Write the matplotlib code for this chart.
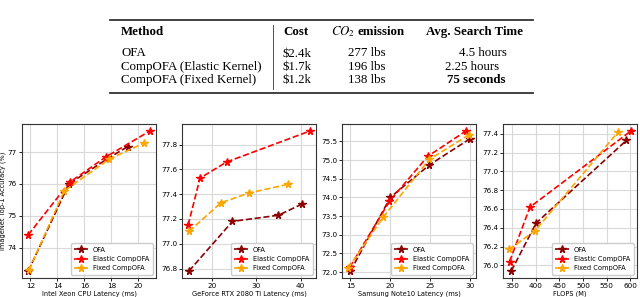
import matplotlib.pyplot as plt
from matplotlib.lines import Line2D

# table content
methods = ["OFA", "CompOFA (Elastic Kernel)", "CompOFA (Fixed Kernel)"]
costs = ["\\$2.4k", "\\$1.7k", "\\$1.2k"]
emissions = ["277 lbs", "196 lbs", "138 lbs"]
search_times = ["4.5 hours", "2.25 hours", "75 seconds"]

labels = ["OFA", "Elastic CompOFA", "Fixed CompOFA"]
colors = ["#8b0000", "red", "orange"]

# Intel Xeon CPU latency (ms)
cpu_x = [[11.85, 14.85, 17.75, 19.2],
         [11.83, 14.9, 17.6, 20.85],
         [11.9, 14.5, 17.85, 20.4]]
cpu_y = [[73.27, 76.0, 76.8, 77.17],
         [74.4, 76.05, 76.85, 77.66],
         [73.3, 75.78, 76.78, 77.28]]

# GeForce RTX 2080 Ti latency (ms)
gpu_x = [[14.8, 24.6, 35.0, 40.3],
         [14.6, 17.3, 23.3, 42.1],
         [14.8, 22.0, 28.4, 37.2]]
gpu_y = [[76.78, 77.18, 77.23, 77.32],
         [77.15, 77.53, 77.66, 77.91],
         [77.10, 77.33, 77.41, 77.48]]

# Samsung Note10 latency (ms)
note_x = [[15.0, 20.0, 24.9, 30.0],
          [14.9, 19.9, 24.7, 29.5],
          [14.7, 19.1, 24.9, 29.9]]
note_y = [[72.03, 74.0, 74.87, 75.57],
          [72.13, 73.9, 75.1, 75.78],
          [72.1, 73.47, 75.02, 75.68]]

# FLOPS (M)
flops_x = [[348.6, 401, 591.5],
           [345, 388, 601],
           [344, 399, 574]]
flops_y = [[75.94, 76.45, 77.33],
           [76.04, 76.62, 77.43],
           [76.17, 76.37, 77.42]]

panels = [
    (cpu_x, cpu_y, "Intel Xeon CPU Latency (ms)", [12, 14, 16, 18, 20], [74, 75, 76, 77]),
    (gpu_x, gpu_y, "GeForce RTX 2080 Ti Latency (ms)", [20, 30, 40],
     [76.8, 77.0, 77.2, 77.4, 77.6, 77.8]),
    (note_x, note_y, "Samsung Note10 Latency (ms)", [15, 20, 25, 30],
     [72.0, 72.5, 73.0, 73.5, 74.0, 74.5, 75.0, 75.5]),
    (flops_x, flops_y, "FLOPS (M)", [350, 400, 450, 500, 550, 600],
     [76.0, 76.2, 76.4, 76.6, 76.8, 77.0, 77.2, 77.4]),
]

fig = plt.figure(figsize=(6.4, 2.97), dpi=100)
W, H = 640.0, 297.0

lefts = [22, 182, 342, 503]
for i, (xs, ys, xlabel, xt, yt) in enumerate(panels):
    ax = fig.add_axes([lefts[i] / W, 19 / H, 134 / W, 154 / H])
    for k in range(3):
        ax.plot(xs[k], ys[k], linestyle="--", marker="*", color=colors[k],
                markersize=5.5, linewidth=1.2, label=labels[k])
    ax.set_xticks(xt)
    ax.set_yticks(yt)
    if i == 0:
        ax.set_yticklabels([str(v) for v in yt])
    ax.grid(True, color="#d9d9d9", linewidth=0.8)
    ax.set_axisbelow(True)
    ax.tick_params(labelsize=5.2, length=2, width=0.6, pad=1.5)
    ax.set_xlabel(xlabel, fontsize=4.8, labelpad=1)
    for s in ax.spines.values():
        s.set_linewidth(0.8)
        s.set_color("#333333")
    if i == 0:
        ax.set_ylabel("ImageNet Top-1 Accuracy (%)", fontsize=4.8, labelpad=1)
    ax.legend(loc="lower right", fontsize=4.8, handlelength=2.0,
              borderpad=0.5, labelspacing=0.5, framealpha=1, edgecolor="#cccccc")

# table
serif = "Liberation Serif"
fs = 9.3


def ty(p):
    return 1 - p / H


def tx(p):
    return p / W


fig.add_artist(Line2D([tx(110), tx(533)], [ty(20), ty(20)], color="#333333", linewidth=1.3))
fig.add_artist(Line2D([tx(110), tx(533)], [ty(93), ty(93)], color="#333333", linewidth=1.3))
fig.add_artist(Line2D([tx(273), tx(273)], [ty(25), ty(89)], color="#333333", linewidth=0.6))

hdr_y = ty(32)
fig.text(tx(121), hdr_y, "Method", family=serif, fontsize=fs, weight="bold", va="center")
fig.text(tx(296), hdr_y, "Cost", family=serif, fontsize=fs, weight="bold", va="center", ha="center")
fig.text(tx(343), hdr_y, "$CO_2$", fontsize=fs, va="center", ha="center",
         math_fontfamily="stix")
fig.text(tx(358), hdr_y, "emission", family=serif, fontsize=fs, weight="bold", va="center")
fig.text(tx(475), hdr_y, "Avg. Search Time", family=serif, fontsize=fs, weight="bold",
         va="center", ha="center")

row_y = [53.5, 66.8, 80]
time_x = [483, 472, 476]
for r in range(3):
    y = ty(row_y[r])
    fig.text(tx(121), y, methods[r], family=serif, fontsize=fs, va="center")
    fig.text(tx(297), y, costs[r], family=serif, fontsize=fs, va="center", ha="center")
    fig.text(tx(367), y, emissions[r], family=serif, fontsize=fs, va="center", ha="center")
    fig.text(tx(time_x[r]), y, search_times[r], family=serif, fontsize=fs, va="center",
             ha="center", weight="bold" if r == 2 else "normal")

fig.savefig("out.png", dpi=100)
